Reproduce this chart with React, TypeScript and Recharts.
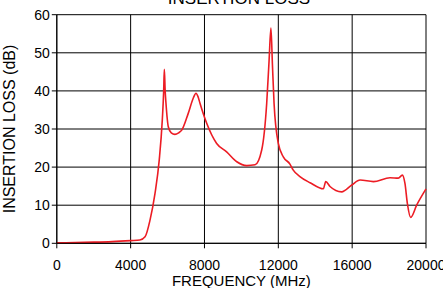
import { LineChart, Line, XAxis, YAxis, CartesianGrid } from 'recharts';

const freqMHz = [
  0, 1000, 2000, 3000, 4000, 4500, 4780, 5050, 5320, 5550, 5715, 5790, 5825, 5870, 5915,
  6040, 6200, 6400, 6600, 6770, 7120, 7400, 7540, 7650, 7760, 8120, 8660, 9200, 9750,
  10290, 10740, 11100, 11370, 11500, 11600, 11680, 11770, 12000, 12270, 12630, 12810,
  13170, 13720, 14440, 14570, 14800, 15430, 15980, 16430, 17150, 18050, 18500, 18720,
  18860, 18990, 19170, 19500, 20000,
];

const lossDb = [
  0.1, 0.2, 0.3, 0.45, 0.7, 0.85, 1.7, 6.1, 13.1, 21.9, 32.4, 40, 45.7, 40, 36.7,
  30.6, 29.0, 28.6, 29.0, 29.7, 34.1, 38.2, 39.4, 38.5, 36.7, 31.5, 26.2, 24.0, 21.4,
  20.4, 20.6, 24.5, 36.7, 48, 56.5, 47, 36.7, 26.2, 22.7, 20.8, 19.2,
  17.5, 15.9, 14.3, 16.2, 14.9, 13.5, 15.3, 16.6, 16.2, 17.2, 17.1, 17.9,
  15.7, 10.5, 6.8, 10.1, 14.3,
];

const xTicks = [0, 4000, 8000, 12000, 16000, 20000];
const yTicks = [0, 10, 20, 30, 40, 50, 60];

const data = freqMHz.map((f, i) => ({ f, loss: lossDb[i] }));

const font = 'Liberation Sans, Arial, Helvetica, sans-serif';

export default function App() {
  return (
    <div style={{ position: 'absolute', left: 0, top: 0, width: 443, height: 288, background: '#fff', fontFamily: font }}>
      <LineChart width={443} height={288} data={data} margin={{ top: 14.7, right: 17, bottom: 0, left: 0 }}>
        <CartesianGrid stroke="#000" strokeWidth={1} horizontalPoints={undefined} />
        <XAxis
          type="number"
          dataKey="f"
          domain={[0, 20000]}
          ticks={xTicks}
          interval={0}
          height={44.7}
          stroke="#000"
          tickSize={5}
          tickMargin={12}
          tick={{ fill: '#000', fontSize: 14, fontFamily: font }}
          label={{ value: 'FREQUENCY (MHz)', position: 'insideBottom', offset: 2, fill: '#000', fontSize: 15, fontFamily: font }}
        />
        <YAxis
          type="number"
          domain={[0, 60]}
          ticks={yTicks}
          interval={0}
          width={56.8}
          stroke="#000"
          tickSize={5}
          tick={{ fill: '#000', fontSize: 14, fontFamily: font }}
        />
        <Line
          type="monotone"
          dataKey="loss"
          stroke="#ec1c24"
          strokeWidth={1.6}
          dot={false}
          isAnimationActive={false}
        />
      </LineChart>
      <svg width={443} height={288} style={{ position: 'absolute', left: 0, top: 0, pointerEvents: 'none' }}>
        <text x={239} y={4} textAnchor="middle" fontSize={17} fontFamily={font} fill="#000">INSERTION LOSS</text>
        <text x={15} y={129} textAnchor="middle" fontSize={16} fontFamily={font} fill="#000" transform="rotate(-90 15 129)">
          INSERTION LOSS (dB)
        </text>
      </svg>
    </div>
  );
}
